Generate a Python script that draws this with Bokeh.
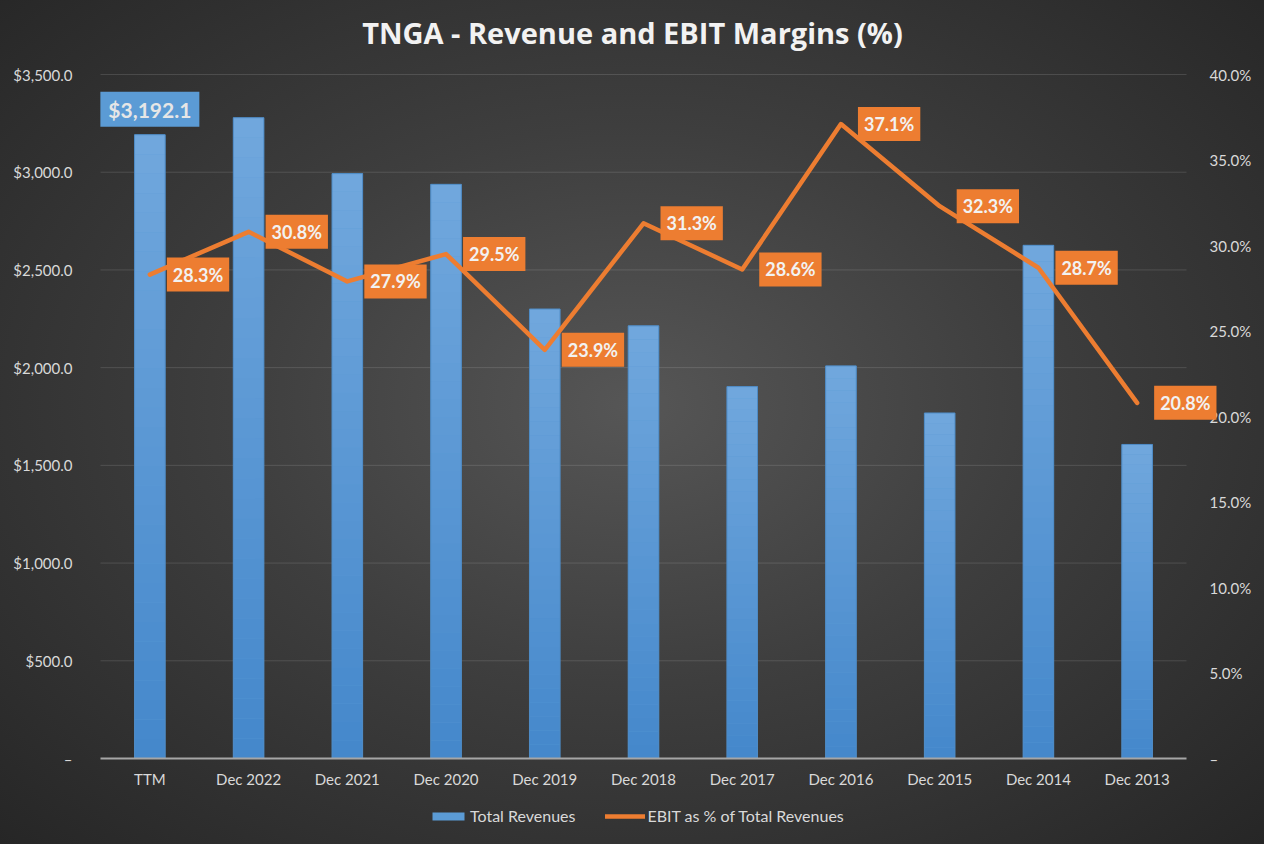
from bokeh.plotting import figure
from bokeh.models import (ColumnDataSource, LinearAxis, Range1d, Legend,
                          LegendItem, InlineStyleSheet, FixedTicker, Label)
from bokeh.embed import file_html
from bokeh.resources import INLINE

categories = ["TTM", "Dec 2022", "Dec 2021", "Dec 2020", "Dec 2019", "Dec 2018",
              "Dec 2017", "Dec 2016", "Dec 2015", "Dec 2014", "Dec 2013"]
revenues = [3192.1, 3279.0, 2993.0, 2938.0, 2300.0, 2214.0, 1903.0, 2009.0, 1768.0, 2626.0, 1607.0]
ebit_margin = [28.3, 30.8, 27.9, 29.5, 23.9, 31.3, 28.6, 37.1, 32.3, 28.7, 20.8]
left_ticks = [0, 500, 1000, 1500, 2000, 2500, 3000, 3500]
left_tick_labels = ["–", "$500.0", "$1,000.0", "$1,500.0", "$2,000.0", "$2,500.0", "$3,000.0", "$3,500.0"]
right_ticks = [0, 5, 10, 15, 20, 25, 30, 35, 40]
right_tick_labels = ["–", "5.0%", "10.0%", "15.0%", "20.0%", "25.0%", "30.0%", "35.0%", "40.0%"]

FONT = "Lato"
TXT = "#d9d9d9"

# canvas & plotting-area geometry (pixels)
W, H = 1264, 844
AREA_L, AREA_R, AREA_T, AREA_B = 100, 1186, 74, 758
N = len(categories)
Y_MAX, P_MAX = left_ticks[-1], right_ticks[-1]

# ranges chosen so the frame covers the whole canvas and the data area lands in AREA
xs = (AREA_R - AREA_L) / N
x_lo, x_hi = -AREA_L / xs, N + (W - AREA_R) / xs
ys = (AREA_B - AREA_T) / Y_MAX
y_lo, y_hi = -(H - AREA_B) / ys, Y_MAX + AREA_T / ys
p_lo, p_hi = y_lo * P_MAX / Y_MAX, y_hi * P_MAX / Y_MAX

xpos = [i + 0.5 for i in range(N)]
src = ColumnDataSource(dict(x=xpos, cat=categories, rev=revenues, pct=ebit_margin))
grid_src = ColumnDataSource(dict(y=left_ticks[1:], x0=[0] * (len(left_ticks) - 1),
                                 x1=[N] * (len(left_ticks) - 1)))

# vertical gradient slices for each bar (dark at the base, light at the top)
K = 32
def mix(c0, c1, t):
    a = [int(c0[i:i + 2], 16) for i in (1, 3, 5)]
    b = [int(c1[i:i + 2], 16) for i in (1, 3, 5)]
    return "#%02x%02x%02x" % tuple(round(a[j] + (b[j] - a[j]) * t) for j in range(3))
gx, gb, gt, gc = [], [], [], []
for xv, r in zip(xpos, revenues):
    for k in range(K):
        gx.append(xv)
        gb.append(r * k / K)
        gt.append(r * (k + 1) / K)
        gc.append(mix("#4487cb", "#71a8dd", (k + 0.5) / K))
grad_src = ColumnDataSource(dict(x=gx, bottom=gb, top=gt, color=gc))

p = figure(x_range=Range1d(x_lo, x_hi), y_range=Range1d(y_lo, y_hi),
           width=W, height=H, output_backend="svg", toolbar_location=None,
           min_border=0)
p.stylesheets = [InlineStyleSheet(css=":host { background: radial-gradient(ellipse at 50% 48%, #565656 0%, #3e3e3e 45%, #262626 100%); }")]
p.border_fill_color = None
p.background_fill_color = None
p.outline_line_color = None
p.xgrid.visible = False
p.ygrid.visible = False

p.extra_y_ranges = {"pct": Range1d(p_lo, p_hi)}

# gridlines at the left-axis ticks
p.segment(x0="x0", x1="x1", y0="y", y1="y", source=grid_src,
          line_color="#ffffff", line_alpha=0.13, line_width=1)

# axes
ya = p.yaxis[0]
ya.fixed_location = 0
ya.ticker = FixedTicker(ticks=left_ticks)
ya.major_label_overrides = {t: s for t, s in zip(left_ticks, left_tick_labels)}
ya.axis_line_color = None
ya.major_tick_line_color = None
ya.minor_tick_line_color = None
ya.major_label_text_color = TXT
ya.major_label_text_font = FONT
ya.major_label_text_font_size = "15px"
ya.major_label_standoff = 22

rax = LinearAxis(y_range_name="pct", ticker=FixedTicker(ticks=right_ticks),
                 major_label_overrides={t: s for t, s in zip(right_ticks, right_tick_labels)},
                 fixed_location=N)
rax.axis_line_color = None
rax.major_tick_line_color = None
rax.minor_tick_line_color = None
rax.major_label_text_color = TXT
rax.major_label_text_font = FONT
rax.major_label_text_font_size = "15px"
rax.major_label_standoff = 17
p.add_layout(rax, "right")

xa = p.xaxis[0]
xa.fixed_location = 0
xa.bounds = (0, N)
xa.ticker = FixedTicker(ticks=xpos)
xa.major_label_overrides = {x: c for x, c in zip(xpos, categories)}
xa.axis_line_color = "#a6a6a6"
xa.axis_line_width = 2
xa.major_tick_line_color = None
xa.minor_tick_line_color = None
xa.major_label_text_color = TXT
xa.major_label_text_font = FONT
xa.major_label_text_font_size = "15px"
xa.major_label_standoff = 5

bars = p.vbar(x="x", top="rev", width=0.31, source=src,
              fill_color="#5B9BD5", line_color=None)
p.vbar(x="x", bottom="bottom", top="top", width=0.31, source=grad_src,
       fill_color="color", line_color=None)
p.vbar(x="x", top="rev", width=0.31, source=src,
       fill_color=None, line_color="#4f8cc6", line_width=1)
line = p.line(x="x", y="pct", source=src, y_range_name="pct",
              line_color="#ED7D31", line_width=4.5, line_join="round", line_cap="round")

for xv, v in zip(xpos, ebit_margin):
    p.add_layout(Label(x=xv, y=v, y_range_name="pct", text=f"{v:.1f}%",
                       x_offset=17, text_align="left", text_baseline="middle",
                       text_color="#f2f2f2", text_font=FONT, text_font_style="bold",
                       text_font_size="18px", background_fill_color="#ED7D31", padding=6))

p.add_layout(Label(x=xpos[0], y=revenues[0], text=f"${revenues[0]:,.1f}",
                   y_offset=8, text_align="center", text_baseline="bottom",
                   text_color="#e6e6e6", text_font=FONT, text_font_style="bold",
                   text_font_size="21px", background_fill_color="#5B9BD5",
                   padding=dict(left=8, right=8, top=5, bottom=5)))

# title
p.add_layout(Label(x=W / 2, y=H - 32, x_units="screen", y_units="screen",
                   text="TNGA - Revenue and EBIT Margins (%)",
                   text_align="center", text_baseline="middle",
                   text_color="#f2f2f2", text_font="Open Sans", text_font_style="bold",
                   text_font_size="29px"))

legend = Legend(items=[LegendItem(label="Total Revenues", renderers=[bars]),
                       LegendItem(label="EBIT as % of Total Revenues", renderers=[line])],
                orientation="horizontal", location=(424, 15),
                background_fill_alpha=0, border_line_alpha=0,
                label_text_color=TXT, label_text_font=FONT, label_text_font_size="16px",
                glyph_width=40, glyph_height=10, spacing=30, label_standoff=2,
                padding=4, margin=0)
p.add_layout(legend, "center")

open("out.html", "w").write(file_html(p, INLINE))
